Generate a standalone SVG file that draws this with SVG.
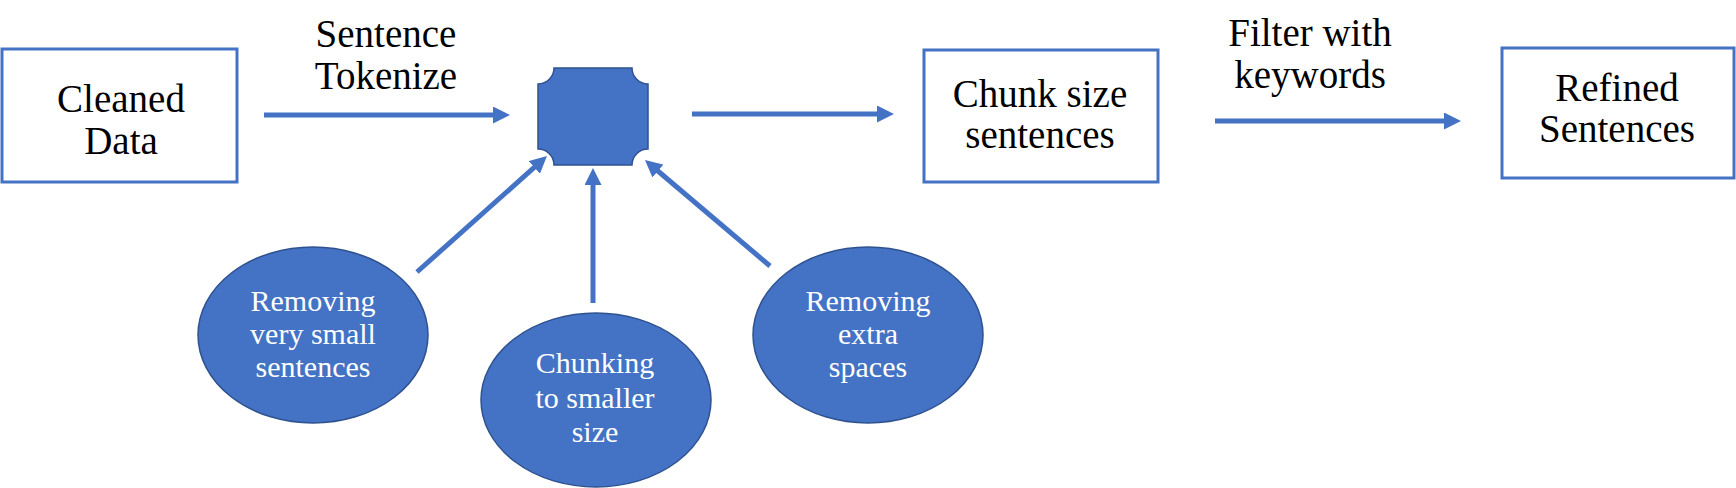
<svg xmlns="http://www.w3.org/2000/svg" width="1736" height="488" viewBox="0 0 1736 488">
<style>
.box{fill:#ffffff;stroke:#4472C4;stroke-width:3}
.ell{fill:#4472C4;stroke:#2F528F;stroke-width:1.5}
.lbl{font-size:39px;fill:#000000;text-anchor:middle}
.wt{font-size:30px;fill:#ffffff;text-anchor:middle}
.conn{stroke:#4472C4;stroke-width:5;fill:none;marker-end:url(#ah)}
</style>
<defs>
<marker id="ah" markerUnits="userSpaceOnUse" markerWidth="17" markerHeight="17" refX="7" refY="8.5" orient="auto">
<path d="M0,0 L17,8.5 L0,17 z" fill="#4472C4"/>
</marker>
</defs>
<rect width="1736" height="488" fill="#ffffff"/>
<g id="connectors">
<line class="conn" x1="264" y1="115" x2="500" y2="115"/>
<line class="conn" x1="692" y1="114" x2="884" y2="114"/>
<line class="conn" x1="1215" y1="121" x2="1451" y2="121"/>
<line class="conn" x1="417" y1="272" x2="539.5" y2="162.7"/>
<line class="conn" x1="593" y1="303" x2="593" y2="178"/>
<line class="conn" x1="770" y1="266" x2="652.6" y2="166.5"/>
</g>
<g font-family="Liberation Serif, DejaVu Serif, serif">
<g id="edge-labels">
<text class="lbl" x="386" y="47">Sentence</text>
<text class="lbl" x="386" y="89">Tokenize</text>
<text class="lbl" x="1310" y="46">Filter with</text>
<text class="lbl" x="1310" y="88">keywords</text>
</g>
<g id="cleaned-data">
<rect class="box" x="2" y="49" width="235" height="133"/>
<text class="lbl" x="121" y="112">Cleaned</text>
<text class="lbl" x="121" y="154">Data</text>
</g>
<g id="tokenizer">
<path d="M554,68 L632,68 A16,16 0 0 0 648,84 L648,149 A16,16 0 0 0 632,165 L554,165 A16,16 0 0 0 538,149 L538,84 A16,16 0 0 0 554,68 Z" fill="#4472C4" stroke="#2F528F" stroke-width="1.5"/>
</g>
<g id="chunk-size">
<rect class="box" x="924" y="50" width="234" height="132"/>
<text class="lbl" x="1040" y="107">Chunk size</text>
<text class="lbl" x="1040" y="148">sentences</text>
</g>
<g id="refined">
<rect class="box" x="1502" y="48" width="232" height="130"/>
<text class="lbl" x="1617" y="101">Refined</text>
<text class="lbl" x="1617" y="142">Sentences</text>
</g>
<g id="remove-small">
<ellipse class="ell" cx="313" cy="335" rx="115" ry="88"/>
<text class="wt" x="313" y="311">Removing</text>
<text class="wt" x="313" y="344">very small</text>
<text class="wt" x="313" y="377">sentences</text>
</g>
<g id="chunking">
<ellipse class="ell" cx="596" cy="400" rx="115" ry="87"/>
<text class="wt" x="595" y="373">Chunking</text>
<text class="wt" x="595" y="408">to smaller</text>
<text class="wt" x="595" y="442">size</text>
</g>
<g id="remove-spaces">
<ellipse class="ell" cx="868" cy="335" rx="115" ry="88"/>
<text class="wt" x="868" y="311">Removing</text>
<text class="wt" x="868" y="344">extra</text>
<text class="wt" x="868" y="377">spaces</text>
</g>
</g>
</svg>
